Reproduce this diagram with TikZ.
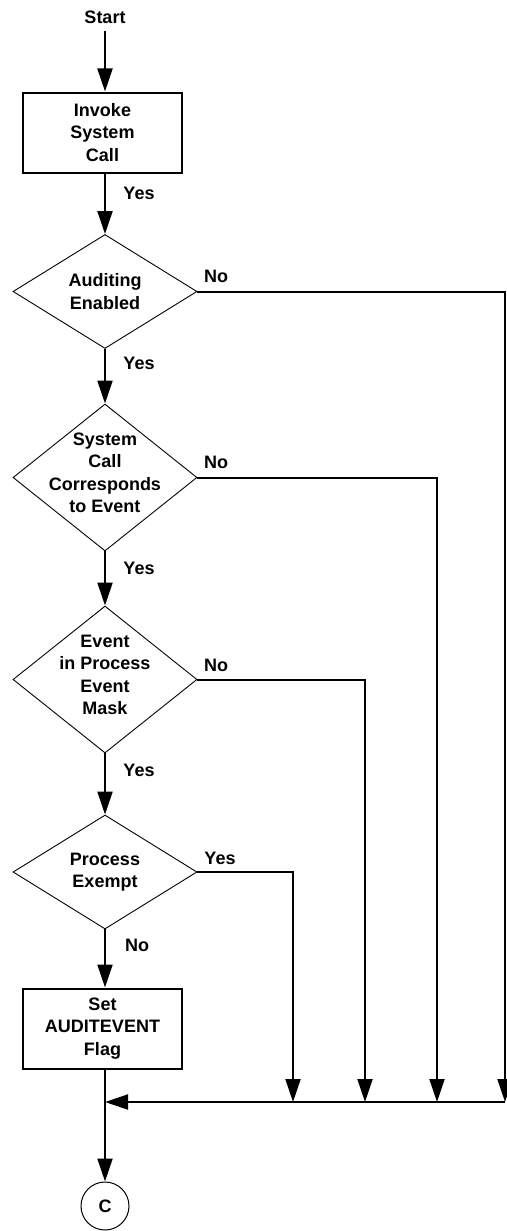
\documentclass[tikz,border=0pt]{standalone}
\usepackage{fontspec}
\setmainfont{Liberation Sans}
\usetikzlibrary{shapes.geometric,arrows.meta}
\begin{document}
\begin{tikzpicture}[x=1pt,y=-1pt,
  every node/.style={font=\bfseries\fontsize{18}{22.5}\selectfont},
  txt/.style={align=center, inner sep=0pt},
  procbox/.style={draw, line width=2pt, minimum width=159pt, minimum height=80pt, inner sep=0pt, align=center},
  decision/.style={draw, line width=0.9pt, diamond, minimum width=184pt, minimum height=#1, inner sep=0pt},
  conn/.style={line width=2pt},
  arr/.style={conn, -{Triangle[length=23pt,width=15pt]}},
  lbl/.style={inner sep=0pt},
  connector/.style={draw, circle, line width=1pt, minimum size=48pt, inner sep=0pt}
]
\useasboundingbox (0,0) rectangle (506,1231);

% nodes
\node[txt] (start) at (105,17) {Start};
\node[procbox] (invoke) at (102.5,132.5) {Invoke\\System\\Call};

\node[decision=114pt] (d1) at (105,291.5) {};
\node[txt] (t1) at (105,291.5) {Auditing\\Enabled};

\node[decision=147pt] (d2) at (105,477.5) {};
\node[txt] (t2) at (105,473) {System\\Call\\Corresponds\\to Event};

\node[decision=147pt] (d3) at (105,679.5) {};
\node[txt] (t3) at (105,675) {Event\\in Process\\Event\\Mask};

\node[decision=114pt] (d4) at (105,872) {};
\node[txt] (t4) at (105,872) {Process\\Exempt};

\node[procbox] (setflag) at (102.5,1028.5) {Set\\AUDITEVENT\\Flag};

\node[connector] (c) at (105,1206) {C};

% merge coordinates
\coordinate (join) at (105,1102);
\coordinate (m4) at (293,1102);
\coordinate (m3) at (365,1102);
\coordinate (m2) at (437,1102);
\coordinate (m1) at (505,1102);

% labels
\node[lbl] (y0) at (139,193) {Yes};
\node[lbl] (n1) at (216,276) {No};
\node[lbl] (y1) at (139,363) {Yes};
\node[lbl] (n2) at (216,462) {No};
\node[lbl] (y2) at (139,568) {Yes};
\node[lbl] (n3) at (216,665) {No};
\node[lbl] (y3) at (139,770) {Yes};
\node[lbl] (y4) at (220,858) {Yes};
\node[lbl] (n4) at (137,945) {No};

% main flow
\draw[arr] ([yshift=-7pt]start.south) -- (start.south |- invoke.north);
\draw[arr] (d1.north |- invoke.south) -- (d1.north);
\draw[arr] (d1.south) -- (d2.north);
\draw[arr] (d2.south) -- (d3.north);
\draw[arr] (d3.south) -- (d4.north);
\draw[arr] (d4.south) -- (d4.south |- setflag.north);
\draw[arr] (d4.south |- setflag.south) -- (c.north);

% side branches
\draw[arr] (d1.east) -| (m1);
\draw[arr] (d2.east) -| (m2);
\draw[arr] (d3.east) -| (m3);
\draw[arr] (d4.east) -| (m4);
\draw[arr] (m1) -- (join);
\end{tikzpicture}
\end{document}
